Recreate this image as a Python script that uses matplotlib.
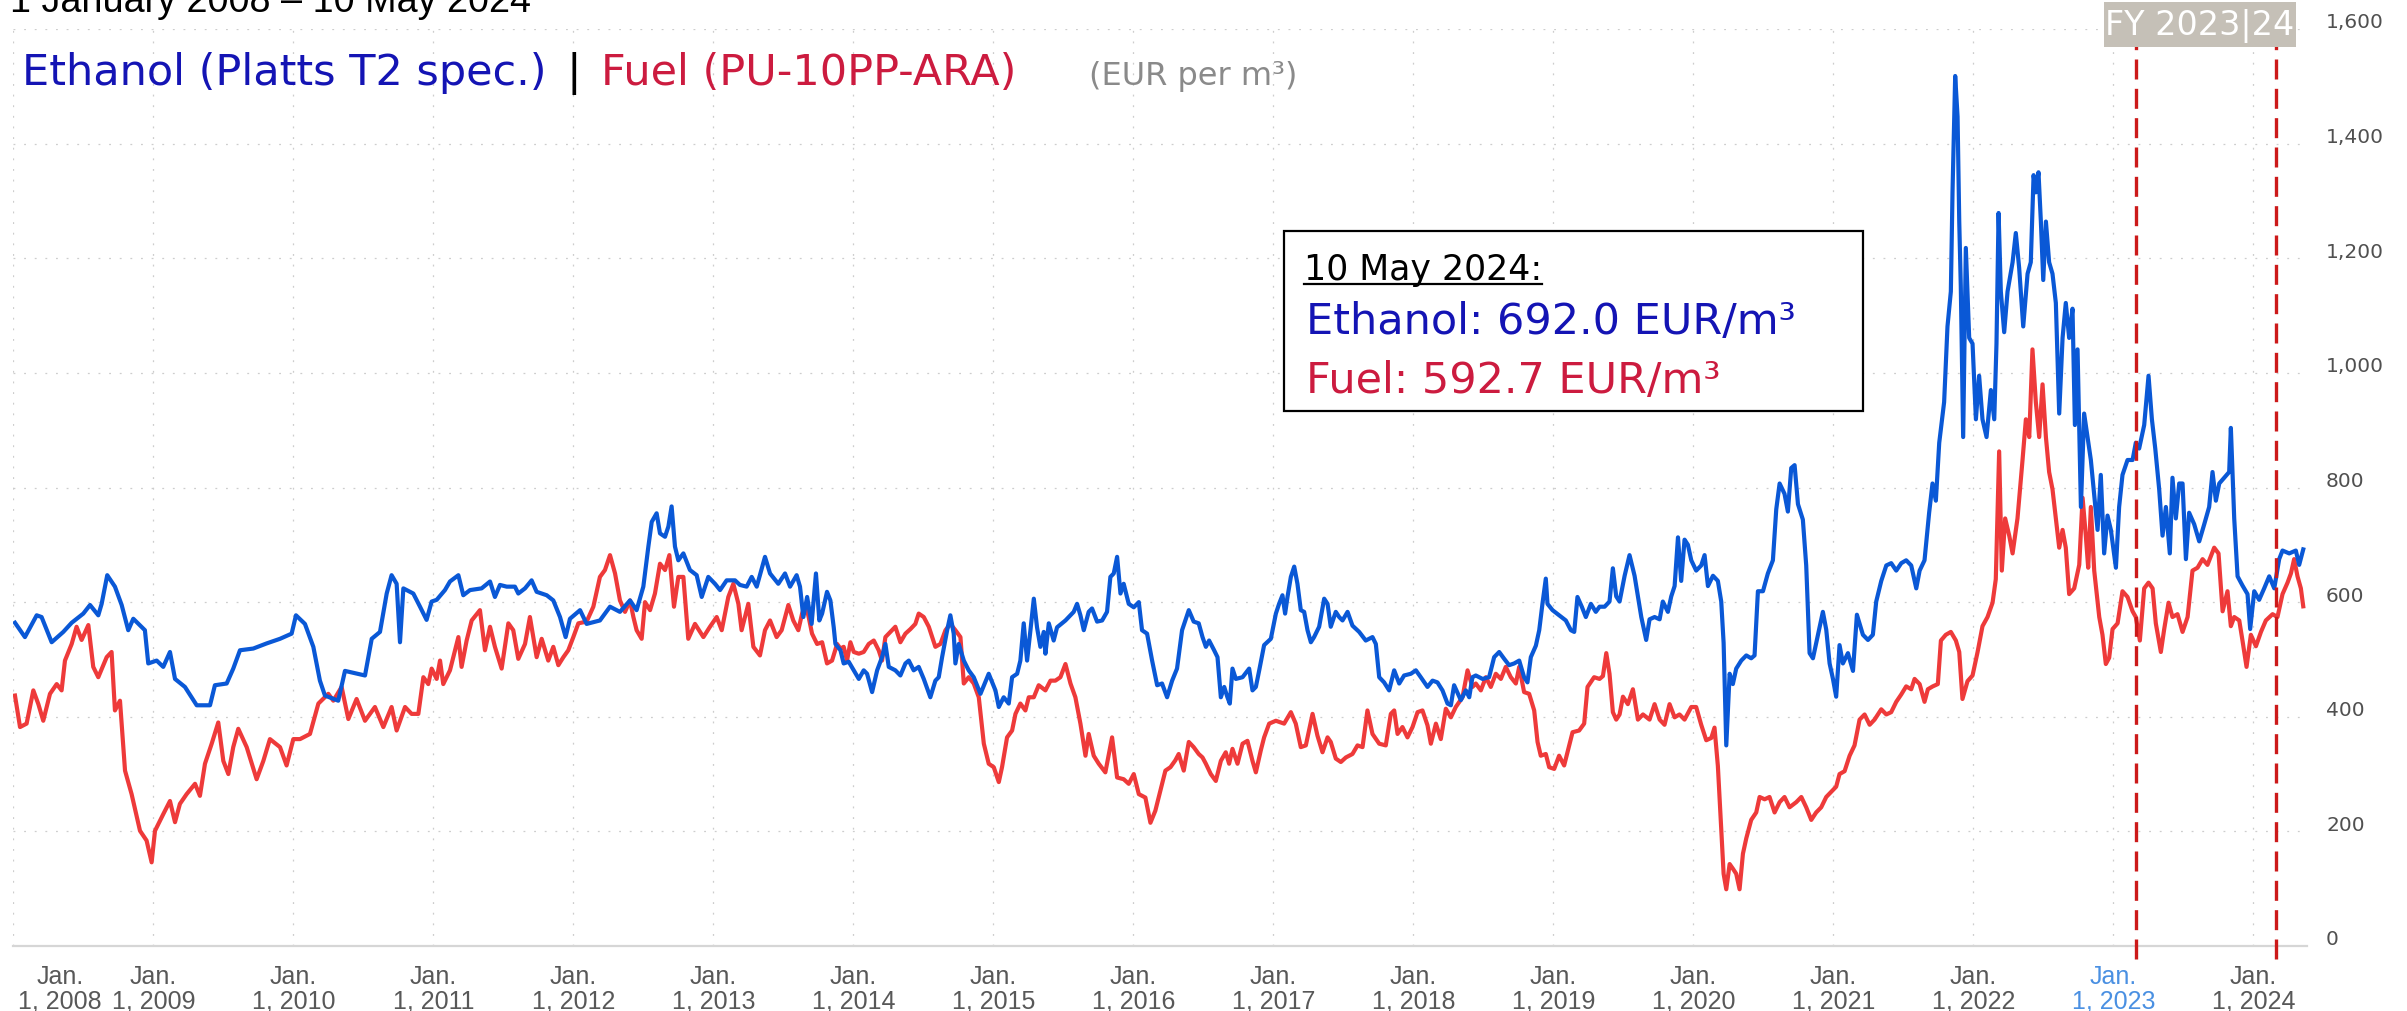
"""
plot.py
Ethanol (Platts T2) vs Fuel (PU-10PP-ARA), EUR per m3, 2008-01 .. 2024-05
"""

import matplotlib
matplotlib.use('Agg')
import matplotlib.pyplot as plt
from matplotlib import font_manager
from matplotlib.patches import Rectangle
from matplotlib.lines import Line2D
from matplotlib.transforms import ScaledTranslation

# ---------------------------------------------------------
# data (decimal year, EUR/m3)
# ---------------------------------------------------------
eth_t = [
    2008.012, 2008.083, 2008.167, 2008.202, 2008.274, 2008.357, 2008.417, 2008.500, 2008.548, 2008.607,
    2008.631, 2008.671, 2008.726, 2008.774, 2008.821, 2008.857, 2008.940, 2008.964, 2009.024, 2009.071,
    2009.119, 2009.155, 2009.226, 2009.310, 2009.405, 2009.440, 2009.524, 2009.571, 2009.619, 2009.714,
    2009.810, 2009.905, 2009.988, 2010.019, 2010.083, 2010.143, 2010.190, 2010.226, 2010.321, 2010.369,
    2010.512, 2010.560, 2010.619, 2010.667, 2010.702, 2010.738, 2010.762, 2010.786, 2010.857, 2010.905,
    2010.952, 2010.988, 2011.024, 2011.083, 2011.119, 2011.179, 2011.214, 2011.262, 2011.345, 2011.405,
    2011.440, 2011.476, 2011.524, 2011.583, 2011.607, 2011.655, 2011.702, 2011.738, 2011.810, 2011.857,
    2011.905, 2011.945, 2011.976, 2012.048, 2012.095, 2012.190, 2012.262, 2012.333, 2012.405, 2012.452,
    2012.500, 2012.536, 2012.560, 2012.595, 2012.619, 2012.655, 2012.679, 2012.702, 2012.726, 2012.750,
    2012.786, 2012.833, 2012.881, 2012.917, 2012.964, 2013.012, 2013.048, 2013.095, 2013.155, 2013.190,
    2013.238, 2013.274, 2013.310, 2013.369, 2013.405, 2013.464, 2013.512, 2013.548, 2013.595, 2013.619,
    2013.643, 2013.670, 2013.702, 2013.733, 2013.757, 2013.777, 2013.812, 2013.836, 2013.860, 2013.872,
    2013.908, 2013.931, 2013.967, 2014.003, 2014.039, 2014.074, 2014.098, 2014.134, 2014.170, 2014.205,
    2014.229, 2014.253, 2014.300, 2014.336, 2014.372, 2014.396, 2014.431, 2014.467, 2014.503, 2014.550,
    2014.586, 2014.610, 2014.634, 2014.670, 2014.693, 2014.717, 2014.729, 2014.753, 2014.789, 2014.824,
    2014.860, 2014.908, 2014.967, 2015.015, 2015.039, 2015.074, 2015.110, 2015.134, 2015.170, 2015.193,
    2015.217, 2015.241, 2015.265, 2015.289, 2015.312, 2015.336, 2015.360, 2015.372, 2015.396, 2015.431,
    2015.455, 2015.515, 2015.574, 2015.598, 2015.622, 2015.646, 2015.681, 2015.705, 2015.741, 2015.777,
    2015.812, 2015.836, 2015.860, 2015.884, 2015.908, 2015.931, 2015.967, 2016.003, 2016.039, 2016.062,
    2016.098, 2016.134, 2016.170, 2016.205, 2016.241, 2016.277, 2016.312, 2016.348, 2016.396, 2016.431,
    2016.467, 2016.494, 2016.518, 2016.541, 2016.577, 2016.601, 2016.625, 2016.649, 2016.672, 2016.689,
    2016.708, 2016.732, 2016.780, 2016.827, 2016.851, 2016.875, 2016.899, 2016.934, 2016.982, 2017.018,
    2017.041, 2017.065, 2017.084, 2017.101, 2017.125, 2017.149, 2017.172, 2017.196, 2017.220, 2017.244,
    2017.268, 2017.291, 2017.327, 2017.363, 2017.387, 2017.410, 2017.446, 2017.470, 2017.494, 2017.530,
    2017.565, 2017.613, 2017.660, 2017.708, 2017.732, 2017.756, 2017.791, 2017.827, 2017.863, 2017.899,
    2017.934, 2017.982, 2018.018, 2018.053, 2018.101, 2018.137, 2018.172, 2018.208, 2018.244, 2018.268,
    2018.291, 2018.339, 2018.375, 2018.399, 2018.422, 2018.446, 2018.494, 2018.541, 2018.577, 2018.613,
    2018.649, 2018.684, 2018.720, 2018.756, 2018.791, 2018.815, 2018.839, 2018.875, 2018.899, 2018.922,
    2018.946, 2018.958, 2018.994, 2019.041, 2019.089, 2019.125, 2019.149, 2019.172, 2019.203, 2019.232,
    2019.268, 2019.303, 2019.330, 2019.366, 2019.401, 2019.425, 2019.449, 2019.473, 2019.509, 2019.544,
    2019.580, 2019.604, 2019.628, 2019.663, 2019.687, 2019.723, 2019.759, 2019.782, 2019.818, 2019.842,
    2019.866, 2019.890, 2019.913, 2019.937, 2019.961, 2019.985, 2020.020, 2020.056, 2020.080, 2020.104,
    2020.140, 2020.175, 2020.199, 2020.216, 2020.235, 2020.259, 2020.282, 2020.306, 2020.342, 2020.378,
    2020.413, 2020.437, 2020.461, 2020.497, 2020.532, 2020.568, 2020.592, 2020.616, 2020.651, 2020.675,
    2020.699, 2020.723, 2020.747, 2020.782, 2020.806, 2020.830, 2020.854, 2020.890, 2020.925, 2020.949,
    2020.973, 2020.997, 2021.020, 2021.044, 2021.068, 2021.104, 2021.140, 2021.168, 2021.211, 2021.247,
    2021.282, 2021.306, 2021.342, 2021.378, 2021.413, 2021.449, 2021.485, 2021.520, 2021.556, 2021.592,
    2021.616, 2021.651, 2021.684, 2021.708, 2021.732, 2021.756, 2021.791, 2021.815, 2021.839, 2021.851,
    2021.870, 2021.887, 2021.899, 2021.910, 2021.927, 2021.946, 2021.970, 2021.994, 2022.018, 2022.041,
    2022.065, 2022.094, 2022.125, 2022.149, 2022.165, 2022.180, 2022.196, 2022.220, 2022.244, 2022.280,
    2022.303, 2022.327, 2022.356, 2022.387, 2022.410, 2022.430, 2022.446, 2022.465, 2022.482, 2022.499,
    2022.518, 2022.541, 2022.565, 2022.589, 2022.613, 2022.637, 2022.660, 2022.684, 2022.708, 2022.725,
    2022.744, 2022.768, 2022.791, 2022.815, 2022.839, 2022.863, 2022.887, 2022.910, 2022.934, 2022.958,
    2022.982, 2023.018, 2023.041, 2023.065, 2023.101, 2023.137, 2023.160, 2023.184, 2023.220, 2023.251,
    2023.275, 2023.299, 2023.327, 2023.351, 2023.375, 2023.403, 2023.422, 2023.446, 2023.470, 2023.494,
    2023.518, 2023.541, 2023.577, 2023.613, 2023.649, 2023.684, 2023.708, 2023.732, 2023.756, 2023.791,
    2023.827, 2023.839, 2023.863, 2023.887, 2023.922, 2023.958, 2023.977, 2024.006, 2024.041, 2024.077,
    2024.113, 2024.149, 2024.184, 2024.208, 2024.256, 2024.303, 2024.327, 2024.356,
]
eth_v = [
    564, 539, 577, 574, 530, 548, 564, 580, 595, 577,
    597, 647, 627, 595, 551, 571, 551, 493, 498, 487,
    513, 466, 452, 420, 420, 455, 458, 484, 516, 519,
    528, 536, 545, 577, 562, 522, 463, 437, 428, 480,
    472, 536, 548, 615, 647, 632, 530, 624, 615, 592,
    569, 601, 604, 621, 636, 647, 612, 621, 624, 636,
    609, 630, 627, 627, 615, 624, 638, 618, 612, 603,
    574, 539, 571, 586, 562, 568, 592, 583, 603, 586,
    627, 697, 740, 755, 720, 714, 732, 767, 697, 673,
    685, 656, 647, 609, 644, 632, 621, 638, 638, 630,
    627, 644, 627, 679, 650, 632, 650, 627, 647, 627,
    574, 609, 562, 650, 568, 580, 618, 603, 556, 527,
    516, 493, 496, 481, 466, 481, 475, 443, 481, 504,
    527, 487, 481, 472, 493, 498, 481, 487, 466, 434,
    463, 469, 504, 551, 577, 545, 493, 527, 498, 481,
    469, 440, 475, 446, 417, 434, 423, 469, 475, 498,
    563, 498, 551, 606, 556, 522, 548, 510, 563, 533,
    556, 568, 583, 597, 577, 551, 583, 589, 566, 568,
    583, 644, 650, 679, 615, 632, 597, 591, 600, 551,
    545, 498, 455, 458, 434, 463, 484, 551, 586, 566,
    563, 539, 522, 533, 516, 504, 434, 452, 434, 423,
    484, 466, 469, 484, 446, 452, 481, 525, 536, 580,
    597, 612, 580, 609, 644, 662, 632, 586, 583, 551,
    530, 539, 557, 606, 597, 557, 583, 574, 568, 583,
    559, 548, 533, 539, 527, 469, 460, 446, 481, 458,
    472, 475, 481, 469, 452, 463, 460, 446, 423, 420,
    455, 429, 446, 434, 469, 472, 466, 469, 504, 513,
    501, 490, 493, 498, 469, 460, 504, 524, 551, 597,
    641, 597, 586, 577, 568, 551, 548, 609, 592, 574,
    597, 583, 592, 592, 601, 659, 610, 601, 646, 682,
    646, 610, 574, 534, 570, 574, 570, 601, 583, 610,
    628, 713, 637, 709, 700, 673, 655, 664, 682, 628,
    646, 637, 601, 529, 350, 475, 457, 484, 498, 507,
    502, 507, 619, 619, 650, 673, 762, 807, 789, 758,
    834, 839, 771, 744, 664, 511, 502, 543, 583, 552,
    493, 466, 435, 525, 493, 511, 480, 578, 543, 534,
    543, 601, 637, 664, 668, 655, 668, 673, 664, 624,
    655, 673, 756, 807, 777, 878, 949, 1081, 1142, 1316,
    1518, 1447, 1264, 1152, 888, 1218, 1061, 1051, 919, 995,
    919, 888, 970, 919, 1051, 1279, 1142, 1071, 1142, 1193,
    1244, 1183, 1081, 1173, 1193, 1345, 1315, 1350, 1264, 1162,
    1264, 1193, 1173, 1122, 929, 1061, 1122, 1061, 1112, 909,
    1041, 766, 929, 888, 848, 787, 726, 822, 685, 751,
    726, 660, 766, 822, 848, 848, 878, 868, 909, 995,
    919, 868, 797, 716, 766, 685, 817, 746, 807, 807,
    675, 756, 736, 706, 736, 766, 827, 777, 807, 817,
    827, 904, 746, 645, 629, 614, 553, 619, 604, 624,
    645, 624, 675, 690, 685, 690, 665, 692.0,
]

fuel_t = [
    2008.012, 2008.048, 2008.095, 2008.143, 2008.179, 2008.214, 2008.262, 2008.310, 2008.345, 2008.369,
    2008.417, 2008.452, 2008.488, 2008.536, 2008.571, 2008.607, 2008.667, 2008.702, 2008.726, 2008.762,
    2008.798, 2008.845, 2008.905, 2008.952, 2008.988, 2009.012, 2009.071, 2009.119, 2009.155, 2009.190,
    2009.238, 2009.298, 2009.333, 2009.369, 2009.417, 2009.464, 2009.500, 2009.536, 2009.571, 2009.607,
    2009.667, 2009.738, 2009.786, 2009.833, 2009.905, 2009.952, 2010.000, 2010.048, 2010.119, 2010.179,
    2010.250, 2010.286, 2010.345, 2010.393, 2010.452, 2010.512, 2010.583, 2010.643, 2010.702, 2010.738,
    2010.798, 2010.845, 2010.893, 2010.929, 2010.964, 2010.988, 2011.024, 2011.048, 2011.071, 2011.119,
    2011.155, 2011.179, 2011.202, 2011.238, 2011.274, 2011.333, 2011.369, 2011.405, 2011.440, 2011.488,
    2011.536, 2011.571, 2011.607, 2011.655, 2011.690, 2011.738, 2011.774, 2011.821, 2011.857, 2011.893,
    2011.929, 2011.964, 2012.000, 2012.036, 2012.095, 2012.143, 2012.190, 2012.226, 2012.262, 2012.298,
    2012.333, 2012.369, 2012.405, 2012.429, 2012.452, 2012.488, 2012.512, 2012.548, 2012.583, 2012.619,
    2012.655, 2012.686, 2012.719, 2012.750, 2012.786, 2012.821, 2012.869, 2012.929, 2012.976, 2013.024,
    2013.060, 2013.107, 2013.143, 2013.179, 2013.202, 2013.250, 2013.286, 2013.333, 2013.369, 2013.405,
    2013.452, 2013.488, 2013.536, 2013.571, 2013.607, 2013.634, 2013.658, 2013.681, 2013.705, 2013.741,
    2013.777, 2013.812, 2013.848, 2013.884, 2013.908, 2013.931, 2013.955, 2013.979, 2014.003, 2014.039,
    2014.074, 2014.110, 2014.146, 2014.181, 2014.205, 2014.229, 2014.265, 2014.300, 2014.336, 2014.372,
    2014.408, 2014.443, 2014.467, 2014.503, 2014.539, 2014.586, 2014.622, 2014.658, 2014.693, 2014.729,
    2014.765, 2014.789, 2014.824, 2014.860, 2014.896, 2014.932, 2014.967, 2015.003, 2015.039, 2015.062,
    2015.098, 2015.134, 2015.158, 2015.193, 2015.229, 2015.253, 2015.289, 2015.324, 2015.372, 2015.408,
    2015.443, 2015.479, 2015.515, 2015.551, 2015.586, 2015.622, 2015.658, 2015.681, 2015.717, 2015.753,
    2015.800, 2015.848, 2015.884, 2015.931, 2015.967, 2016.003, 2016.039, 2016.086, 2016.122, 2016.157,
    2016.193, 2016.229, 2016.265, 2016.300, 2016.324, 2016.360, 2016.396, 2016.431, 2016.467, 2016.494,
    2016.518, 2016.553, 2016.589, 2016.625, 2016.660, 2016.684, 2016.708, 2016.744, 2016.780, 2016.815,
    2016.851, 2016.875, 2016.910, 2016.934, 2016.970, 2017.018, 2017.077, 2017.125, 2017.160, 2017.196,
    2017.232, 2017.280, 2017.315, 2017.351, 2017.387, 2017.410, 2017.446, 2017.482, 2017.518, 2017.565,
    2017.601, 2017.637, 2017.672, 2017.708, 2017.756, 2017.803, 2017.839, 2017.863, 2017.887, 2017.922,
    2017.958, 2017.994, 2018.030, 2018.065, 2018.101, 2018.125, 2018.161, 2018.196, 2018.232, 2018.268,
    2018.303, 2018.351, 2018.387, 2018.422, 2018.446, 2018.482, 2018.518, 2018.553, 2018.589, 2018.625,
    2018.660, 2018.696, 2018.732, 2018.756, 2018.791, 2018.827, 2018.863, 2018.887, 2018.910, 2018.946,
    2018.970, 2019.006, 2019.041, 2019.077, 2019.101, 2019.137, 2019.184, 2019.220, 2019.244, 2019.291,
    2019.330, 2019.354, 2019.378, 2019.401, 2019.425, 2019.449, 2019.473, 2019.497, 2019.532, 2019.568,
    2019.604, 2019.640, 2019.687, 2019.723, 2019.759, 2019.794, 2019.830, 2019.866, 2019.901, 2019.937,
    2019.985, 2020.020, 2020.056, 2020.092, 2020.128, 2020.151, 2020.175, 2020.199, 2020.216, 2020.235,
    2020.259, 2020.282, 2020.306, 2020.330, 2020.354, 2020.378, 2020.413, 2020.449, 2020.473, 2020.509,
    2020.544, 2020.580, 2020.616, 2020.651, 2020.687, 2020.735, 2020.771, 2020.806, 2020.842, 2020.877,
    2020.913, 2020.949, 2020.985, 2021.020, 2021.044, 2021.080, 2021.116, 2021.151, 2021.187, 2021.223,
    2021.259, 2021.294, 2021.342, 2021.378, 2021.413, 2021.449, 2021.485, 2021.520, 2021.556, 2021.580,
    2021.616, 2021.651, 2021.675, 2021.710, 2021.746, 2021.768, 2021.803, 2021.839, 2021.875, 2021.899,
    2021.922, 2021.958, 2021.994, 2022.030, 2022.065, 2022.101, 2022.137, 2022.160, 2022.184, 2022.203,
    2022.227, 2022.256, 2022.280, 2022.315, 2022.351, 2022.375, 2022.399, 2022.422, 2022.446, 2022.470,
    2022.494, 2022.518, 2022.541, 2022.565, 2022.589, 2022.613, 2022.637, 2022.660, 2022.684, 2022.720,
    2022.756, 2022.780, 2022.803, 2022.820, 2022.839, 2022.863, 2022.899, 2022.922, 2022.946, 2022.970,
    2022.994, 2023.030, 2023.065, 2023.101, 2023.137, 2023.160, 2023.189, 2023.220, 2023.251, 2023.280,
    2023.303, 2023.339, 2023.363, 2023.394, 2023.422, 2023.458, 2023.494, 2023.530, 2023.565, 2023.601,
    2023.637, 2023.672, 2023.720, 2023.751, 2023.780, 2023.815, 2023.839, 2023.863, 2023.899, 2023.922,
    2023.951, 2023.982, 2024.018, 2024.054, 2024.089, 2024.137, 2024.172, 2024.208, 2024.244, 2024.268,
    2024.291, 2024.315, 2024.339, 2024.356,
]
fuel_v = [
    437, 382, 388, 446, 422, 393, 440, 457, 446, 498,
    527, 557, 534, 560, 487, 469, 504, 513, 411, 428,
    306, 265, 201, 184, 146, 201, 230, 253, 216, 248,
    265, 283, 262, 318, 353, 390, 323, 300, 347, 379,
    347, 291, 323, 361, 347, 315, 361, 361, 370, 423,
    440, 428, 452, 396, 431, 393, 417, 382, 417, 376,
    417, 405, 405, 469, 457, 484, 466, 498, 457, 481,
    516, 539, 487, 533, 568, 586, 516, 557, 522, 484,
    563, 551, 501, 527, 574, 504, 536, 498, 522, 490,
    504, 516, 539, 563, 566, 592, 644, 656, 682, 650,
    603, 583, 603, 574, 551, 536, 600, 586, 615, 667,
    656, 682, 592, 644, 644, 536, 562, 539, 557, 574,
    551, 609, 632, 597, 551, 597, 522, 507, 551, 568,
    539, 551, 595, 568, 551, 580, 597, 574, 545, 527,
    530, 493, 498, 527, 519, 522, 498, 530, 513, 510,
    513, 527, 533, 516, 498, 539, 548, 557, 530, 545,
    553, 562, 580, 574, 557, 522, 527, 551, 562, 551,
    539, 458, 469, 458, 434, 353, 318, 312, 286, 312,
    364, 376, 405, 423, 411, 434, 434, 455, 446, 463,
    463, 469, 492, 458, 434, 388, 332, 370, 332, 318,
    303, 364, 294, 291, 283, 300, 265, 259, 215, 236,
    271, 306, 312, 324, 335, 306, 356, 347, 335, 329,
    318, 300, 288, 323, 338, 318, 344, 318, 353, 358,
    323, 303, 341, 364, 388, 393, 388, 408, 388, 347,
    350, 405, 367, 338, 364, 356, 327, 321, 329, 335,
    350, 347, 411, 370, 353, 350, 405, 411, 370, 382,
    364, 382, 408, 411, 385, 353, 388, 361, 414, 399,
    417, 434, 481, 452, 458, 446, 469, 452, 475, 466,
    487, 469, 458, 487, 443, 440, 411, 356, 332, 335,
    312, 309, 332, 315, 338, 373, 376, 388, 452, 469,
    466, 471, 511, 475, 408, 395, 404, 435, 422, 448,
    395, 404, 395, 422, 395, 386, 422, 399, 404, 395,
    417, 417, 386, 359, 363, 381, 314, 206, 126, 99,
    143, 135, 126, 99, 161, 188, 220, 233, 260, 256,
    260, 233, 251, 260, 242, 251, 260, 242, 220, 233,
    242, 260, 269, 278, 300, 305, 332, 350, 395, 404,
    386, 395, 413, 404, 408, 426, 439, 453, 448, 466,
    457, 426, 448, 453, 457, 533, 543, 548, 533, 513,
    431, 462, 472, 513, 558, 574, 599, 640, 863, 655,
    746, 716, 685, 746, 848, 919, 888, 1041, 949, 888,
    980, 888, 827, 797, 746, 695, 726, 695, 614, 624,
    665, 782, 716, 660, 766, 655, 574, 543, 492, 503,
    553, 563, 619, 609, 584, 574, 533, 624, 634, 624,
    563, 513, 553, 599, 574, 579, 548, 574, 655, 660,
    675, 665, 695, 685, 584, 619, 558, 574, 568, 533,
    487, 543, 523, 548, 568, 579, 574, 614, 634, 650,
    675, 645, 624, 592.7,
]

# axes / labels
year_ticks = list(range(2008, 2025))
x_labels = [f'Jan.\n1, {y}' for y in year_ticks]
y_ticks = [0, 200, 400, 600, 800, 1000, 1200, 1400, 1600]
fy_marks = [2023.162, 2024.164]          # 1 March 2023 / 1 March 2024
highlight_year = 2023

# colours
C_ETH_LINE = '#0A58D6'
C_FUEL_LINE = '#EE3A3A'
C_ETH_TXT = '#1414B4'
C_FUEL_TXT = '#CC1B3F'
C_GRID = '#CDCDCD'
C_FY = '#C5C0B7'

W, H = 2407, 1012


def fx(px):
    return px / W


def fy(py):
    return 1 - py / H


def pick_font(candidates, default):
    names = {f.name for f in font_manager.fontManager.ttflist}
    for c in candidates:
        if c in names:
            return c
    return default


def fit_width(txt, target_px, renderer):
    # scale font size so the text spans target_px
    w = txt.get_window_extent(renderer).width
    txt.set_fontsize(txt.get_fontsize() * target_px / w)


def main():
    narrow = pick_font(['Liberation Sans Narrow', 'DejaVu Sans Condensed', 'Arial Narrow'],
                       'Liberation Sans')
    plt.rcParams['font.family'] = ['DejaVu Sans']

    fig = plt.figure(figsize=(W / 100, H / 100), dpi=100)
    fig.patch.set_facecolor('white')
    ax = fig.add_axes([fx(13.3), fy(947), fx(2306.6) - fx(13.3), fy(30) - fy(947)])

    ax.plot(fuel_t, fuel_v, color=C_FUEL_LINE, lw=3.0, zorder=3, solid_joinstyle='round')
    ax.plot(eth_t, eth_v, color=C_ETH_LINE, lw=3.0, zorder=3, solid_joinstyle='round')

    ax.set_xlim(2008.0, 2024.38)
    ax.set_ylim(0, 1600)
    ax.set_xticks(year_ticks)
    ax.set_xticklabels(x_labels)
    ax.set_yticks(y_ticks)
    ax.set_yticklabels([f'{v:,}' for v in y_ticks])
    ax.yaxis.tick_right()

    ax.grid(True, color=C_GRID, lw=0.9, linestyle=(0, (1.5, 7)), zorder=0)
    for s in ['top', 'left', 'right']:
        ax.spines[s].set_visible(False)
    ax.spines['bottom'].set_color('#D6D6D6')
    ax.spines['bottom'].set_linewidth(1.6)

    ax.tick_params(axis='both', length=0)
    ax.tick_params(axis='y', pad=14, labelsize=14.5, labelcolor='#505050')
    ax.tick_params(axis='x', pad=13, labelsize=18, labelcolor='#585858')

    # y labels sit a little above their gridline
    up = ScaledTranslation(0, 9 / 100, fig.dpi_scale_trans)
    for lab in ax.get_yticklabels():
        lab.set_transform(lab.get_transform() + up)
        lab.set_horizontalalignment('left')

    for y, lab in zip(year_ticks, ax.get_xticklabels()):
        lab.set_fontfamily(narrow)
        lab.set_multialignment('center')
        lab.set_linespacing(1.0)
        if y == highlight_year:
            lab.set_color('#4A90E2')
        if y == year_ticks[0]:
            lab.set_horizontalalignment('left')
            lab.set_transform(lab.get_transform() + ScaledTranslation(5 / 100, 0, fig.dpi_scale_trans))

    # FY 2023|24 markers
    for d in fy_marks:
        ax.axvline(d, ymin=-0.014, ymax=0.981, color='#CC1A1A', lw=2.4,
                   dashes=(6, 2.8), clip_on=False, zorder=4)

    fig.patches.append(Rectangle((fx(2104), fy(48)), fx(2296) - fx(2104), (48 - 3) / H,
                                 transform=fig.transFigure, facecolor=C_FY, edgecolor='none', zorder=5))
    fig.text(fx(2200), fy(26), 'FY 2023|24', color='white', fontsize=24,
             ha='center', va='center', zorder=6)

    renderer = fig.canvas.get_renderer()

    # header (top line is clipped by the frame edge, as in the source)
    t0 = fig.text(fx(10), fy(12), '1 January 2008 \u2013 10 May 2024', fontfamily=narrow,
                  fontsize=30, color='black', va='baseline')
    fit_width(t0, 520, renderer)

    fig.text(fx(22), fy(85), 'Ethanol (Platts T2 spec.)', color=C_ETH_TXT, fontsize=31, va='baseline')
    fig.text(fx(567), fy(85), '|', color='black', fontsize=31, va='baseline')
    fig.text(fx(601), fy(85), 'Fuel (PU-10PP-ARA)', color=C_FUEL_TXT, fontsize=31, va='baseline')
    fig.text(fx(1089), fy(85), '(EUR per m\u00b3)', color='#8A8A8A', fontsize=23, va='baseline')

    # latest-value box
    fig.patches.append(Rectangle((fx(1284), fy(412)), fx(1863) - fx(1284), (412 - 232) / H,
                                 transform=fig.transFigure, facecolor='white', edgecolor='black',
                                 lw=1.6, zorder=5))
    d = fig.text(fx(1304), fy(280), '10 May 2024:', color='black', fontsize=25,
                 va='baseline', zorder=6)
    bb = d.get_window_extent(renderer)
    fig.lines.append(Line2D([fx(bb.x0), fx(bb.x1)], [fy(285), fy(285)], transform=fig.transFigure,
                            color='black', lw=1.6, zorder=6))
    fig.text(fx(1306), fy(334), f'Ethanol: {eth_v[-1]:.1f} EUR/m\u00b3', color=C_ETH_TXT,
             fontsize=31, va='baseline', zorder=6)
    fig.text(fx(1306), fy(393), f'Fuel: {fuel_v[-1]:.1f} EUR/m\u00b3', color=C_FUEL_TXT,
             fontsize=31, va='baseline', zorder=6)

    fig.savefig('out.png', dpi=100, facecolor='white')
    print('SAVED: out.png, narrow font =', narrow)


if __name__ == '__main__':
    main()
